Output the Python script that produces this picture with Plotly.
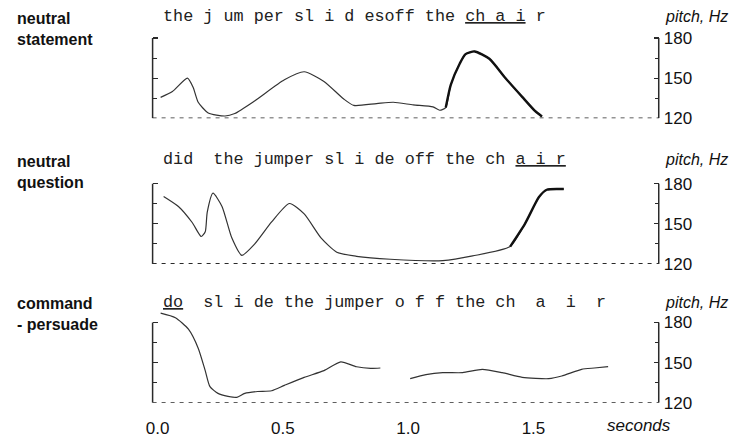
import plotly.graph_objects as go

# ---------------- data ----------------
top_t = [0.012, 0.059, 0.119, 0.142, 0.162, 0.202, 0.269, 0.308, 0.387, 0.506, 0.585, 0.664,
         0.743, 0.783, 0.874, 0.941, 1.020, 1.099, 1.126, 1.150, 1.170, 1.206, 1.229, 1.265,
         1.324, 1.387, 1.455, 1.506, 1.534]
top_hz = [135.6, 140, 150, 143, 132, 124, 121.7, 123.6, 133, 148.8, 154.8, 147.6,
          134.4, 129.6, 131, 132, 130, 128.5, 126, 128, 145, 161, 168, 170,
          164.5, 150.3, 136, 125.5, 121.4]

mid_t = [0.024, 0.083, 0.138, 0.174, 0.190, 0.198, 0.221, 0.257, 0.296, 0.336, 0.387, 0.455,
         0.526, 0.585, 0.652, 0.715, 0.794, 0.929, 1.138, 1.257, 1.407, 1.466, 1.522, 1.553, 1.621]
mid_hz = [170.5, 163, 151, 140.5, 144, 158.6, 172.9, 163, 139.5, 126.4, 134.8, 151.4,
          165.2, 157.4, 139.5, 128.8, 125.7, 123.5, 122.5, 126, 133, 150, 170, 175.5, 176]

bot_t = [0.012, 0.071, 0.123, 0.162, 0.190, 0.209, 0.241, 0.281, 0.316, 0.348, 0.399, 0.455,
         0.506, 0.585, 0.664, 0.731, 0.794, 0.850, 0.889, None,
         1.008, 1.071, 1.138, 1.217, 1.296, 1.375, 1.455, 1.561, 1.613, 1.692, 1.743, 1.798]
bot_hz = [187, 183.6, 175, 160.8, 144, 132, 127, 124.8, 124, 127, 128.4, 129,
          133, 139, 144, 150.5, 146.9, 145.7, 146, None,
          138, 141, 142.5, 142.5, 145, 142.5, 139, 138, 140, 145, 146, 147]

panel_titles = ["neutral<br>statement", "neutral<br>question", "command<br>- persuade"]
sentences = [
    "the j um per sl i d esoff the <u>ch a i</u> r",
    "did\u00a0 the jumper sl i de off the ch <u>a i r</u>",
    "<u>do</u>\u00a0 sl i de the jumper o f f the ch\u00a0 a\u00a0 i\u00a0 r",
]
x_tickvals = [0.0, 0.5, 1.0, 1.5]
x_ticktext = ["0.0", "0.5", "1.0", "1.5"]
y_tickvals = [120, 150, 180]
y_minor = [135, 165]
top_thick_from = 1.15
mid_thick_from = 1.40

# ---------------- layout constants ----------------
W, H = 735, 445
X_RANGE = [-0.02, 2.0]
Y_RANGE = [120, 188]
panel_base_px = [121, 270, 412]     # pixel row of the 120 Hz baseline
panel_h_px = 93                      # height of 68 Hz
sentence_px = [17, 163, 309]
INK = "#2a2a2a"
SANS = "Liberation Sans, Arial, sans-serif"

fig = go.Figure()

series = [(top_t, top_hz, top_thick_from), (mid_t, mid_hz, mid_thick_from), (bot_t, bot_hz, None)]
for i, (tt, hz, thick_from) in enumerate(series):
    yref = "y" if i == 0 else f"y{i+1}"
    fig.add_trace(go.Scatter(x=tt, y=hz, mode="lines", yaxis=yref, xaxis="x",
                             line=dict(color="#333", width=1.2, shape="spline", smoothing=0.6),
                             connectgaps=False, hoverinfo="skip", showlegend=False))
    if thick_from is not None:
        idx = [k for k, v in enumerate(tt) if v is not None and v >= thick_from]
        fig.add_trace(go.Scatter(x=[tt[k] for k in idx], y=[hz[k] for k in idx], mode="lines",
                                 yaxis=yref, xaxis="x",
                                 line=dict(color="#111", width=2.4, shape="spline", smoothing=0.6),
                                 hoverinfo="skip", showlegend=False))

layout = dict(
    width=W, height=H, margin=dict(l=0, r=0, t=0, b=0),
    paper_bgcolor="white", plot_bgcolor="white", showlegend=False,
    xaxis=dict(domain=[147 / W, 658 / W], range=X_RANGE, anchor="y3",
               showgrid=False, zeroline=False, showline=False, ticks="",
               tickvals=x_tickvals, ticktext=x_ticktext,
               tickfont=dict(family=SANS, size=17, color="#111"),
               ticklabelstandoff=13),
)
shapes = []
annotations = []
for i in range(3):
    key = "yaxis" if i == 0 else f"yaxis{i+1}"
    yref = "y" if i == 0 else f"y{i+1}"
    base = panel_base_px[i]
    dom = [1 - base / H, 1 - (base - panel_h_px) / H]
    layout[key] = dict(
        domain=dom, range=Y_RANGE, anchor="x", side="right",
        showgrid=False, zeroline=False, showline=False,
        ticks="inside", ticklen=5, tickwidth=1.3, tickcolor=INK, mirror="ticks",
        tickvals=y_tickvals, ticktext=[str(v) for v in y_tickvals],
        tickfont=dict(family=SANS, size=17, color="#111"),
        ticklabelstandoff=4,
        minor=dict(tickvals=y_minor, ticks="inside", ticklen=4, tickwidth=1.1, tickcolor=INK),
    )
    # brackets and dashed baseline
    for xd in (0, 1):
        shapes.append(dict(type="line", xref="x domain", yref=yref, x0=xd, x1=xd,
                           y0=Y_RANGE[0], y1=y_tickvals[-1], line=dict(color=INK, width=1.5)))
    shapes.append(dict(type="line", xref="x domain", yref=yref, x0=0, x1=1,
                       y0=Y_RANGE[0], y1=Y_RANGE[0], line=dict(color=INK, width=1.7, dash="4px,5px")))
    sy = 1 - sentence_px[i] / H
    annotations.append(dict(text=sentences[i], xref="paper", yref="paper", x=155 / W, y=sy,
                            xanchor="left", yanchor="middle", showarrow=False,
                            font=dict(family="Liberation Mono, monospace", size=16.8, color="#222")))
    annotations.append(dict(text="pitch, Hz", xref="paper", yref="paper", x=662 / W, y=sy,
                            xanchor="left", yanchor="middle", showarrow=False,
                            font=dict(family=SANS, size=16, color="#111", style="italic")))
    annotations.append(dict(text="<b>" + panel_titles[i].replace("<br>", "</b><br><b>") + "</b>",
                            xref="paper", yref="paper", x=8 / W, y=sy + 9 / H,
                            xanchor="left", yanchor="top", align="left", showarrow=False,
                            font=dict(family=SANS, size=16, color="#111")))

annotations.append(dict(text="seconds", xref="paper", yref="paper", x=638 / W, y=1 - 435 / H,
                        xanchor="center", yanchor="middle", showarrow=False,
                        font=dict(family=SANS, size=17, color="#111", style="italic")))
layout["shapes"] = shapes
layout["annotations"] = annotations
fig.update_layout(**layout)
fig.write_html("out.html", config={"displayModeBar": False, "staticPlot": True},
               post_script="document.body.style.margin='0';document.body.style.overflow='hidden';")
